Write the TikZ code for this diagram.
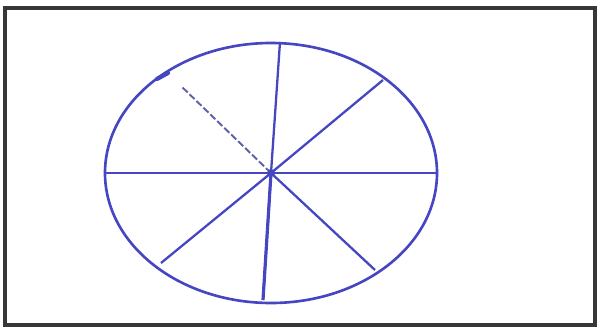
\documentclass[tikz,border=0pt]{standalone}
\usepackage{tikz}
\usetikzlibrary{calc}

\definecolor{inkblue}{RGB}{70,70,195}
\definecolor{framegray}{RGB}{55,55,55}

\tikzset{
  rim/.style={draw=inkblue, line width=1.5pt},
  spoke/.style={draw=inkblue, line width=1.3pt},
  faint spoke/.style={draw=inkblue!55!gray, line width=1.1pt, dash pattern=on 4pt off 1.5pt}
}

\begin{document}
\begin{tikzpicture}[x=0.02cm, y=-0.02cm]
\useasboundingbox (0,0) rectangle (602,332);

% frame
\draw[framegray, line width=1.8pt] (5,8) rectangle (595,325);

% wheel
\coordinate (hub) at (271,173);
\draw[rim] (hub) ellipse [x radius=166, y radius=130];

% spokes
\foreach \name/\px/\py in {top/280/42, ur/383/80, right/436/173, lr/375/270,
                            low/263/300, ll/161/263, left/106/173} {
    \coordinate (\name) at (\px,\py);
    \draw[spoke] (hub) -- (\name);
}
\draw[spoke, line width=1.8pt] (hub) -- (low);

% the faint one
\coordinate (ul) at (181,86);
\draw[faint spoke] (hub) -- (ul);
\draw[inkblue, line width=2.4pt, line cap=round] (157,79) -- (168,73);

\fill[inkblue] (hub) circle (4);
\end{tikzpicture}
\end{document}
